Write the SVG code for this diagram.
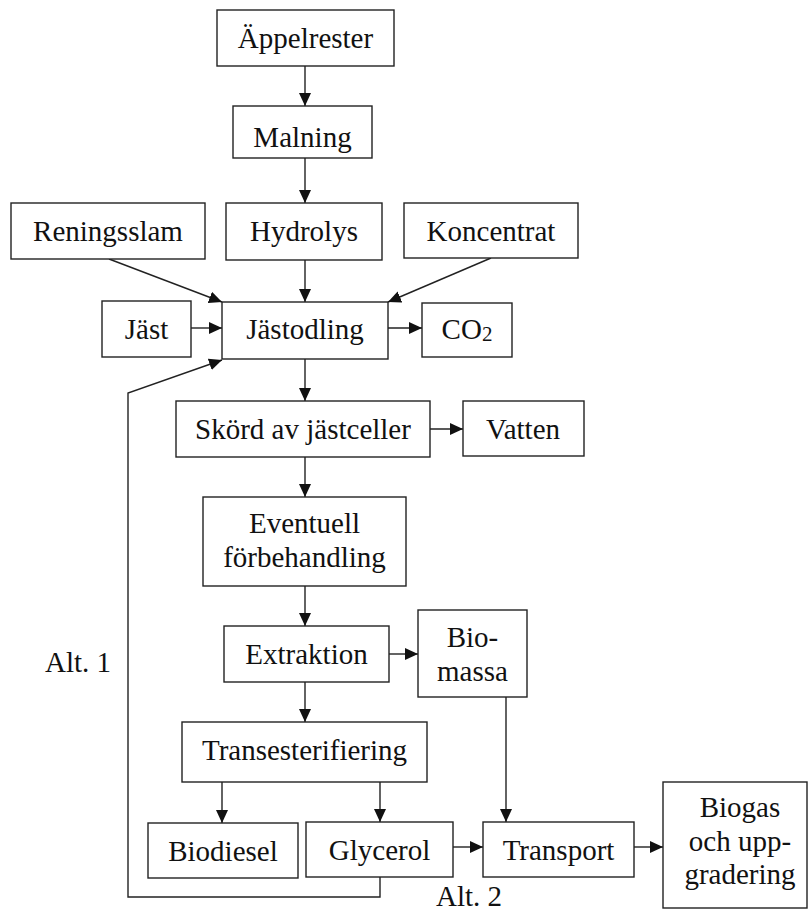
<svg xmlns="http://www.w3.org/2000/svg" width="808" height="912" viewBox="0 0 808 912">
<style>
rect.box{fill:#fff;stroke:#222;stroke-width:1.4}
text{font-family:"Liberation Serif","Times New Roman",serif;font-size:29px;fill:#111;text-anchor:middle}
.c{fill:none;stroke:#222;stroke-width:1.4}
</style>
<defs>
<marker id="ah" markerUnits="userSpaceOnUse" markerWidth="13" markerHeight="12" refX="13" refY="6" orient="auto">
<path d="M0,0 L13,6 L0,12 z" fill="#111"/>
</marker>
</defs>
<rect width="808" height="912" fill="#fff"/>
<g id="connectors">
<line class="c" x1="305" y1="66" x2="305" y2="106" marker-end="url(#ah)"/>
<line class="c" x1="305" y1="158" x2="305" y2="203" marker-end="url(#ah)"/>
<line class="c" x1="109" y1="259" x2="222" y2="302" marker-end="url(#ah)"/>
<line class="c" x1="305" y1="260" x2="305" y2="302" marker-end="url(#ah)"/>
<line class="c" x1="491" y1="258" x2="388" y2="302" marker-end="url(#ah)"/>
<line class="c" x1="191" y1="328" x2="222" y2="328" marker-end="url(#ah)"/>
<line class="c" x1="388" y1="328" x2="422" y2="328" marker-end="url(#ah)"/>
<line class="c" x1="305" y1="359" x2="305" y2="401" marker-end="url(#ah)"/>
<line class="c" x1="430" y1="429" x2="463" y2="429" marker-end="url(#ah)"/>
<line class="c" x1="305" y1="457" x2="305" y2="497" marker-end="url(#ah)"/>
<line class="c" x1="305" y1="586" x2="305" y2="626" marker-end="url(#ah)"/>
<line class="c" x1="389" y1="654" x2="418" y2="654" marker-end="url(#ah)"/>
<line class="c" x1="305" y1="682" x2="305" y2="722" marker-end="url(#ah)"/>
<line class="c" x1="222" y1="782" x2="222" y2="823" marker-end="url(#ah)"/>
<line class="c" x1="380" y1="782" x2="380" y2="822" marker-end="url(#ah)"/>
<line class="c" x1="506" y1="697" x2="506" y2="822" marker-end="url(#ah)"/>
<line class="c" x1="453" y1="847" x2="483" y2="847" marker-end="url(#ah)"/>
<line class="c" x1="634" y1="847" x2="663" y2="847" marker-end="url(#ah)"/>
<polyline class="c" points="380,877 380,897 128,897 128,393 222,360" marker-end="url(#ah)"/>
</g>
<g id="appelrester"><rect class="box" x="217" y="10" width="177" height="56"/><text x="305.5" y="48">Äppelrester</text></g>
<g id="malning"><rect class="box" x="233" y="106" width="139" height="52"/><text x="302.5" y="147">Malning</text></g>
<g id="reningsslam"><rect class="box" x="11" y="203" width="194" height="56"/><text x="108" y="241">Reningsslam</text></g>
<g id="hydrolys"><rect class="box" x="226" y="203" width="156" height="57"/><text x="304" y="241">Hydrolys</text></g>
<g id="koncentrat"><rect class="box" x="404" y="203" width="174" height="55"/><text x="491" y="241">Koncentrat</text></g>
<g id="jast"><rect class="box" x="102" y="301" width="89" height="56"/><text x="146.5" y="339">Jäst</text></g>
<g id="jastodling"><rect class="box" x="222" y="302" width="166" height="57"/><text x="305" y="339">Jästodling</text></g>
<g id="co2"><rect class="box" x="422" y="303" width="90" height="54"/><text x="467" y="339">CO<tspan font-size="21" dy="2">2</tspan></text></g>
<g id="skord"><rect class="box" x="176" y="401" width="254" height="56"/><text x="303" y="439">Skörd av jästceller</text></g>
<g id="vatten"><rect class="box" x="463" y="401" width="121" height="55"/><text x="523" y="439">Vatten</text></g>
<g id="forbehandling"><rect class="box" x="203" y="497" width="203" height="89"/><text x="304.5" y="533">Eventuell</text><text x="304.5" y="567">förbehandling</text></g>
<g id="extraktion"><rect class="box" x="224" y="626" width="165" height="56"/><text x="306.5" y="664">Extraktion</text></g>
<g id="biomassa"><rect class="box" x="418" y="610" width="109" height="87"/><text x="472.5" y="647">Bio-</text><text x="472.5" y="681">massa</text></g>
<g id="transesterifiering"><rect class="box" x="182" y="722" width="245" height="60"/><text x="304.5" y="760">Transesterifiering</text></g>
<g id="biodiesel"><rect class="box" x="148" y="823" width="150" height="55"/><text x="223" y="861">Biodiesel</text></g>
<g id="glycerol"><rect class="box" x="306" y="822" width="147" height="55"/><text x="379.5" y="860">Glycerol</text></g>
<g id="transport"><rect class="box" x="483" y="822" width="151" height="55"/><text x="558.5" y="860">Transport</text></g>
<g id="biogas"><rect class="box" x="663" y="782" width="144" height="126"/><text x="740" y="817">Biogas</text><text x="740" y="851">och upp-</text><text x="740" y="884">gradering</text></g>
<g id="labels"><text x="45" y="672" style="text-anchor:start">Alt. 1</text><text x="436" y="906" style="text-anchor:start">Alt. 2</text></g>
</svg>
